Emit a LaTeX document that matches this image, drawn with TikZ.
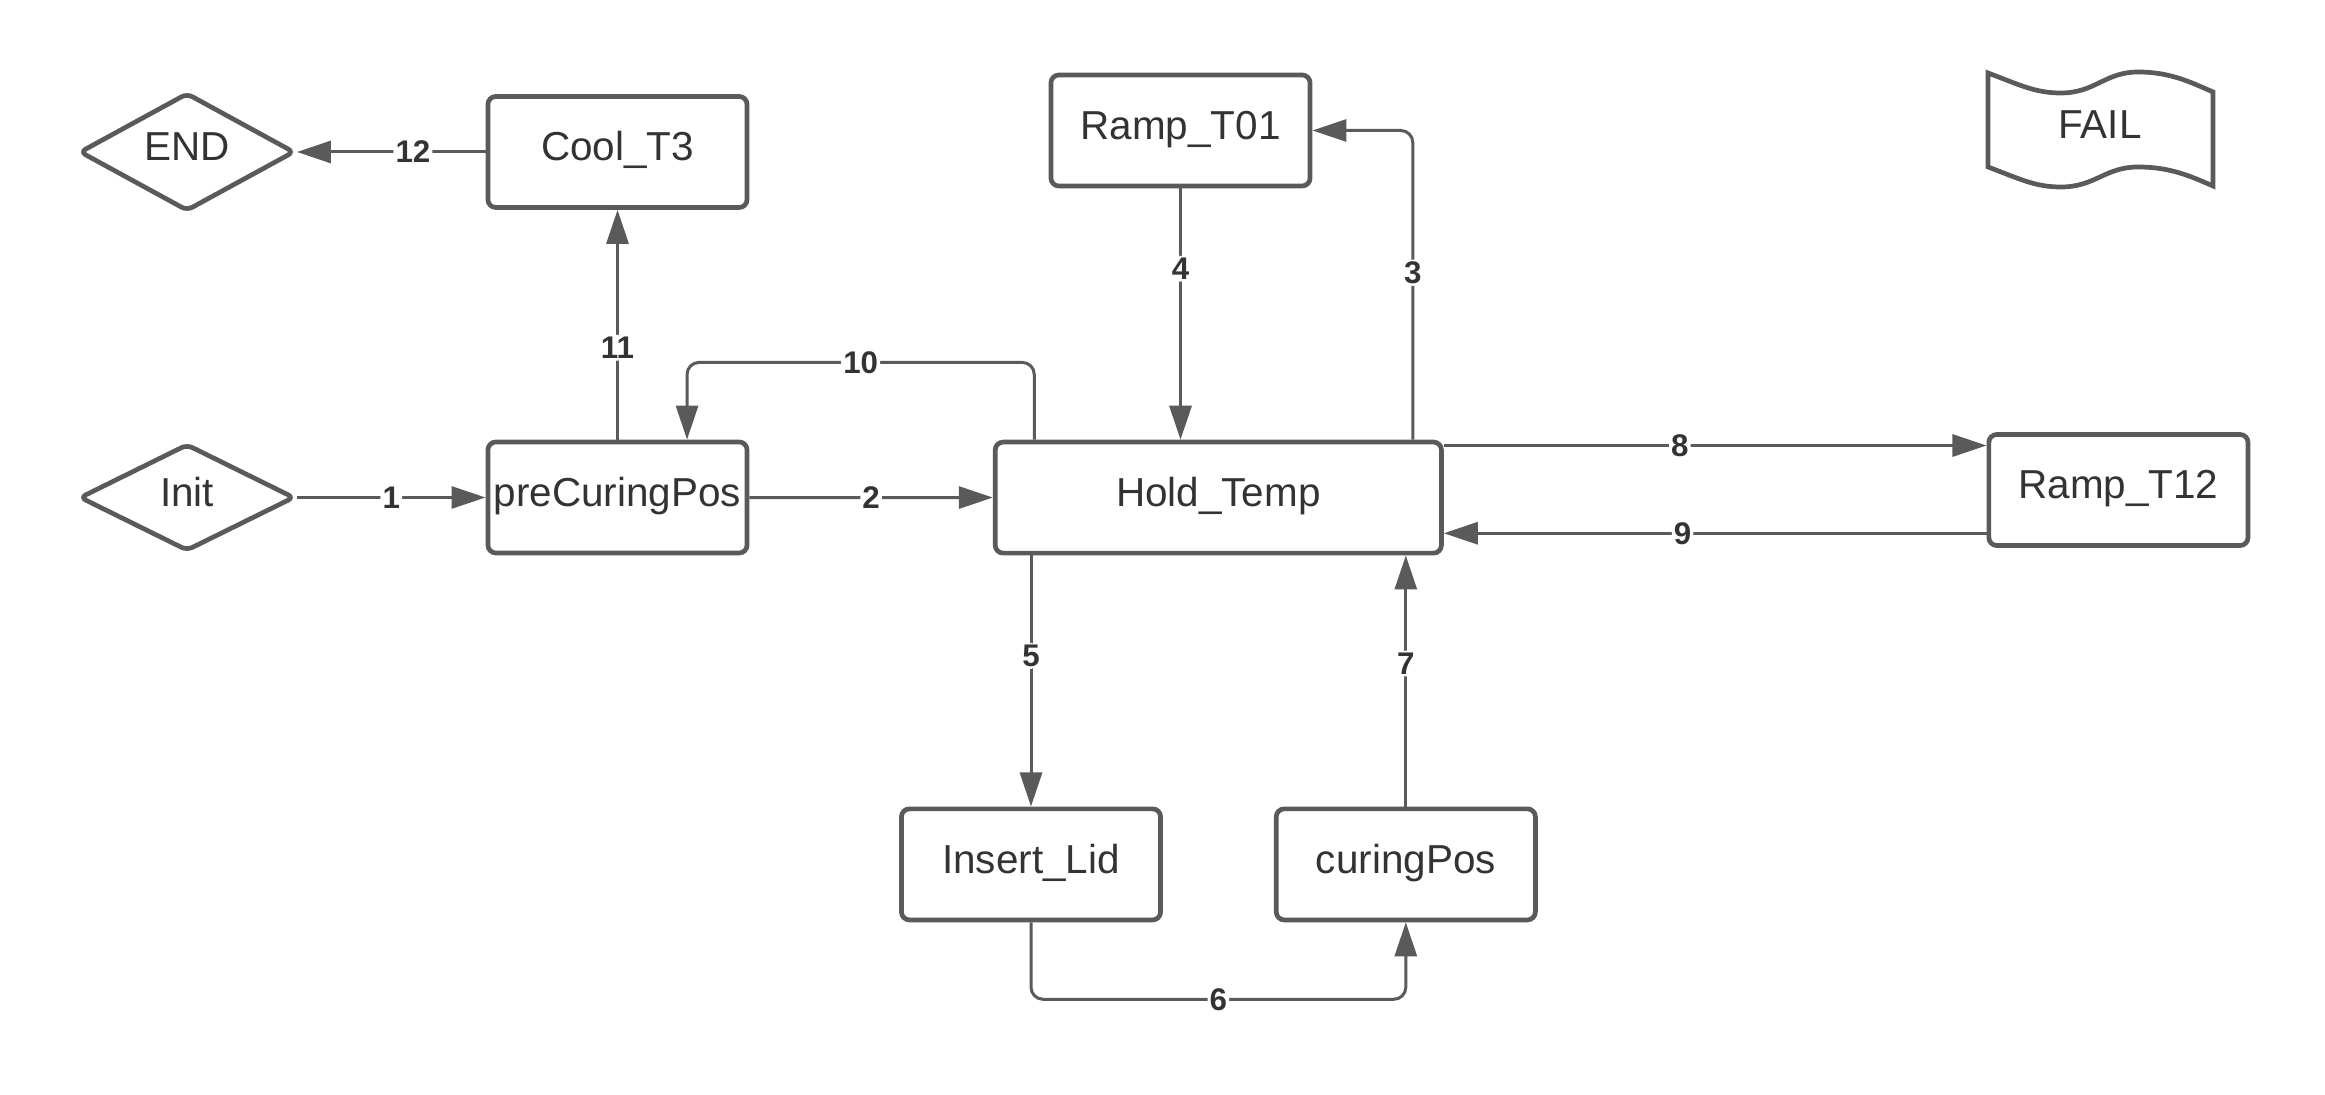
\documentclass[tikz,border=0pt]{standalone}
\usepackage{fontspec}
\setmainfont{Liberation Sans}
\usetikzlibrary{shapes.geometric,arrows.meta}
\definecolor{edgegray}{HTML}{5A5A5A}
\definecolor{textgray}{HTML}{333333}

\begin{document}
\begin{tikzpicture}[x=0.01cm,y=-0.01cm,
  state/.style={draw=edgegray,line width=0.047cm,rounded corners=0.08cm,minimum width=2.59cm,minimum height=1.11cm,inner sep=0pt,text=textgray,text height=0.716em,text depth=0.22em,font=\fontsize{11.5}{13}\selectfont},
  term/.style={diamond,draw=edgegray,line width=0.047cm,rounded corners=0.06cm,minimum width=2.15cm,minimum height=1.07cm,inner sep=0pt,text=textgray,text height=0.716em,text depth=0.22em,font=\fontsize{11.5}{13}\selectfont},
  conn/.style={draw=edgegray,line width=0.03cm,-{Triangle[length=0.34cm,width=0.22cm]},rounded corners=0.12cm},
  num/.style={fill=white,inner sep=0.6pt,text=textgray,font=\bfseries\fontsize{8.9}{10}\selectfont}]

\useasboundingbox (0,0) rectangle (2325,1095);

%states
\node[term] (done) at (187,152) {END};
\node[term] (init) at (187,497.5) {Init};
\node[state] (cool) at (617.5,152) {Cool\_T3};
\node[state] (pre) at (617.5,497.5) {preCuringPos};
\node[state] (r01) at (1180.5,130.5) {Ramp\_T01};
\node[state,minimum width=4.46cm] (hold) at (1218.3,497.6) {Hold\_Temp};
\node[state] (r12) at (2118.4,490) {Ramp\_T12};
\node[state] (lid) at (1031,864.4) {Insert\_Lid};
\node[state] (cur) at (1405.8,864.4) {curingPos};

%fail flag, drawn as a wavy tape
\draw[edgegray,line width=0.047cm] (1988,73) .. controls (2020,85) and (2035,93) .. (2061,93) .. controls (2095,93) and (2105,72) .. (2138,72) .. controls (2170,72) and (2190,82) .. (2213,92) -- (2213,186) .. controls (2190,176) and (2170,167) .. (2138,167) .. controls (2105,167) and (2095,187) .. (2061,187) .. controls (2035,187) and (2020,179) .. (1988,167) -- cycle;
\node[text=textgray,font=\fontsize{11.5}{13}\selectfont] (fail) at (2100,125) {FAIL};

%transitions
\draw[conn] (init) -- node[num]{1} (pre);
\draw[conn] (pre) -- node[num]{2} (hold);
\draw[conn] ([xshift=-0.31cm]hold.north east) |- node[num,pos=0.27]{3} (r01);
\draw[conn] (r01) -- node[num,pos=0.32]{4} (r01 |- hold.north);
\draw[conn] (lid |- hold.south) -- node[num,pos=0.4]{5} (lid);
\draw[conn] (lid.south) -- ++(0,77) -| node[num,pos=0.25]{6} (cur.south);
\draw[conn] (cur) -- node[num,pos=0.57]{7} (cur |- hold.south);

\coordinate (p8) at ([yshift=-0.134cm]r12.north west);
\coordinate (p9) at ([yshift=0.146cm]r12.south west);
\draw[conn] (p8 -| hold.east) -- node[num,pos=0.435]{8} (p8);
\draw[conn] (p9) -- node[num,pos=0.56]{9} (p9 -| hold.east);

\draw[conn] ([xshift=0.414cm]hold.north west) -- ++(0,-77.3) -| node[num,pos=0.25]{10} ([xshift=0.695cm]pre.north);
\draw[conn] (pre) -- node[num,pos=0.4]{11} (cool);
\draw[conn] (cool) -- node[num,pos=0.385]{12} (done);

\end{tikzpicture}
\end{document}
